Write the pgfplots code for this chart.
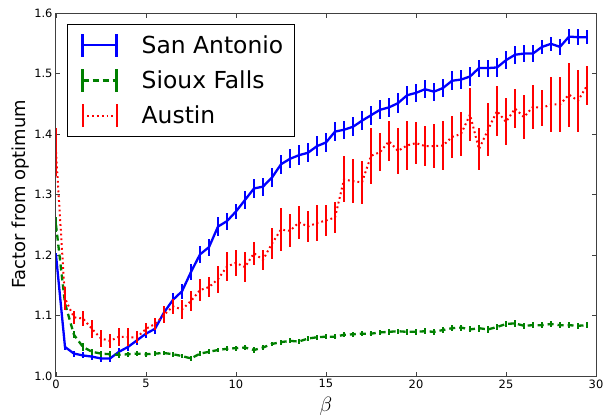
\documentclass[border=0pt]{standalone}
\usepackage{fontspec}
\setmainfont{DejaVu Sans}
\usepackage{pgfplots}
\pgfplotsset{compat=1.18}
\usepackage{pgfplotstable}

% x  mean  error
\pgfplotstableread{
x y e
0 1.200 0.004
0.5 1.048 0.005
1 1.037 0.005
1.5 1.034 0.005
2 1.032 0.005
2.5 1.029 0.006
3 1.029 0.006
3.5 1.040 0.006
4 1.048 0.007
4.5 1.059 0.007
5 1.070 0.008
5.5 1.078 0.008
6 1.105 0.009
6.5 1.126 0.011
7 1.140 0.012
7.5 1.172 0.013
8 1.201 0.014
8.5 1.213 0.014
9 1.247 0.015
9.5 1.256 0.014
10 1.272 0.013
10.5 1.291 0.015
11 1.310 0.016
11.5 1.313 0.015
12 1.328 0.015
12.5 1.350 0.016
13 1.359 0.016
13.5 1.365 0.016
14 1.369 0.016
14.5 1.380 0.016
15 1.386 0.016
15.5 1.404 0.016
16 1.407 0.015
16.5 1.412 0.016
17 1.422 0.016
17.5 1.431 0.016
18 1.440 0.016
18.5 1.444 0.016
19 1.451 0.016
19.5 1.464 0.016
20 1.468 0.015
20.5 1.474 0.015
21 1.470 0.015
21.5 1.476 0.015
22 1.488 0.016
22.5 1.490 0.016
23 1.495 0.016
23.5 1.509 0.014
24 1.509 0.014
24.5 1.510 0.015
25 1.522 0.015
25.5 1.531 0.015
26 1.533 0.014
26.5 1.533 0.014
27 1.544 0.012
27.5 1.549 0.012
28 1.544 0.013
28.5 1.561 0.013
29 1.560 0.013
29.5 1.560 0.012
}\sanantonio

\pgfplotstableread{
x y e
0 1.250 0.012
0.5 1.120 0.007
1 1.068 0.006
1.5 1.048 0.006
2 1.040 0.005
2.5 1.037 0.005
3 1.036 0.005
3.5 1.035 0.005
4 1.036 0.004
4.5 1.037 0.004
5 1.036 0.004
5.5 1.037 0.004
6 1.038 0.004
6.5 1.036 0.004
7 1.033 0.004
7.5 1.029 0.004
8 1.037 0.004
8.5 1.040 0.004
9 1.043 0.004
9.5 1.045 0.004
10 1.046 0.004
10.5 1.047 0.004
11 1.043 0.005
11.5 1.047 0.004
12 1.053 0.004
12.5 1.056 0.004
13 1.058 0.004
13.5 1.057 0.004
14 1.062 0.004
14.5 1.064 0.004
15 1.065 0.004
15.5 1.065 0.004
16 1.068 0.004
16.5 1.069 0.004
17 1.070 0.004
17.5 1.070 0.004
18 1.072 0.004
18.5 1.073 0.005
19 1.074 0.004
19.5 1.073 0.005
20 1.073 0.005
20.5 1.074 0.005
21 1.073 0.005
21.5 1.076 0.005
22 1.079 0.005
22.5 1.080 0.005
23 1.077 0.005
23.5 1.079 0.006
24 1.077 0.006
24.5 1.081 0.005
25 1.086 0.005
25.5 1.087 0.006
26 1.083 0.005
26.5 1.084 0.005
27 1.084 0.005
27.5 1.086 0.005
28 1.084 0.005
28.5 1.084 0.005
29 1.083 0.005
29.5 1.084 0.005
}\siouxfalls

\pgfplotstableread{
x y e
0 1.370 0.040
0.5 1.128 0.019
1 1.097 0.011
1.5 1.095 0.013
2 1.078 0.015
2.5 1.062 0.014
3 1.058 0.012
3.5 1.065 0.015
4 1.064 0.015
4.5 1.064 0.010
5 1.078 0.010
5.5 1.086 0.010
6 1.101 0.014
6.5 1.115 0.012
7 1.110 0.015
7.5 1.124 0.017
8 1.142 0.018
8.5 1.147 0.016
9 1.160 0.022
9.5 1.181 0.024
10 1.187 0.021
10.5 1.180 0.025
11 1.203 0.019
11.5 1.192 0.017
12 1.219 0.025
12.5 1.242 0.036
13 1.240 0.027
13.5 1.254 0.027
14 1.247 0.025
14.5 1.253 0.030
15 1.257 0.025
15.5 1.262 0.025
16 1.325 0.038
16.5 1.322 0.036
17 1.320 0.035
17.5 1.364 0.046
18 1.370 0.031
18.5 1.388 0.033
19 1.372 0.038
19.5 1.381 0.041
20 1.385 0.035
20.5 1.380 0.033
21 1.380 0.037
21.5 1.381 0.041
22 1.395 0.034
22.5 1.400 0.037
23 1.432 0.044
23.5 1.375 0.035
24 1.407 0.044
24.5 1.438 0.041
25 1.420 0.039
25.5 1.442 0.032
26 1.428 0.037
26.5 1.445 0.036
27 1.443 0.030
27.5 1.449 0.045
28 1.449 0.045
28.5 1.465 0.053
29 1.455 0.051
29.5 1.480 0.032
}\austin

\definecolor{mplblue}{RGB}{0,0,255}
\definecolor{mplgreen}{RGB}{0,128,0}
\definecolor{mplred}{RGB}{255,0,0}

% legend sample: the line with an error bar at each end
\pgfplotsset{errlegend/.style={legend image code/.code={
    \path (0bp,0bp);
    \draw[##1] (5bp,0bp) -- (39bp,0bp);
    \draw[##1,solid] (5bp,-11.5bp) -- (5bp,11.5bp) (39bp,-11.5bp) -- (39bp,11.5bp);}}}

\begin{document}
\begin{tikzpicture}
\begin{axis}[
    at={(0,0)}, anchor=south west,
    scale only axis,
    width=540bp, height=363bp,
    xmin=0, xmax=30,
    ymin=1.0, ymax=1.6,
    xtick={0,5,10,15,20,25,30},
    ytick={1.0,1.1,1.2,1.3,1.4,1.5,1.6},
    yticklabel style={/pgf/number format/.cd, fixed, fixed zerofill, precision=1},
    /pgf/number format/assume math mode=true,
    tick label style={font=\fontsize{11.5}{13}\selectfont},
    tick align=inside, xtick pos=both, ytick pos=both,
    major tick length=4.5bp,
    every tick/.style={black!75, line width=0.8bp},
    axis line style={black!75, line width=1bp},
    xlabel={$\beta$},
    xlabel style={at={(axis description cs:0.5,-0.083)}, anchor=center, font=\fontsize{20}{22}\selectfont},
    ylabel={Factor from optimum},
    ylabel style={at={(axis description cs:-0.065,0.5)}, anchor=center, font=\fontsize{18}{20}\selectfont},
    legend cell align=left,
    legend style={at={(0.0204,0.9697)}, anchor=north west,
        draw=black, line width=0.8bp,
        font=\fontsize{23.5}{27}\selectfont,
        inner xsep=9bp, inner ysep=8bp, row sep=10bp,
        /tikz/every odd column/.append style={column sep=22bp}},
]
\addplot[mplblue, line width=2.3bp, errlegend,
    error bars/.cd, y dir=both, y explicit, error mark=none,
    error bar style={line width=2bp, solid}]
    table[x=x, y=y, y error=e] {\sanantonio};
\addlegendentry{San Antonio}
\addplot[mplgreen, line width=2.3bp, dash pattern=on 6bp off 4bp, errlegend,
    error bars/.cd, y dir=both, y explicit, error mark=none,
    error bar style={line width=2bp, solid}]
    table[x=x, y=y, y error=e] {\siouxfalls};
\addlegendentry{Sioux Falls}
\addplot[mplred, line width=2bp, dash pattern=on 1.8bp off 3bp, errlegend,
    error bars/.cd, y dir=both, y explicit, error mark=none,
    error bar style={line width=2.4bp, solid}]
    table[x=x, y=y, y error=e] {\austin};
\addlegendentry{Austin}
\end{axis}
\pgfresetboundingbox
\path[use as bounding box] (-56bp,-41bp) rectangle (547bp,376bp);
\end{tikzpicture}
\end{document}
